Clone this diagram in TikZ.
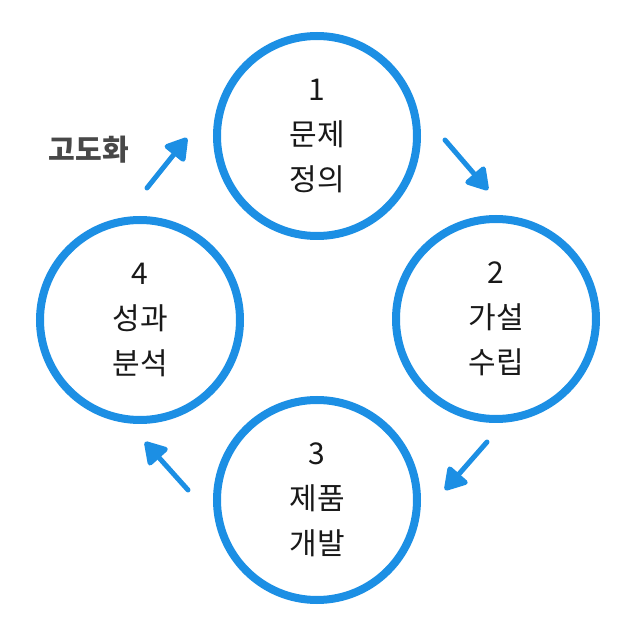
\documentclass[tikz,border=0pt]{standalone}
\usepackage{fontspec}
\setmainfont{Noto Sans CJK KR}
\usetikzlibrary{arrows.meta}
\definecolor{cblue}{RGB}{28,143,228}
\definecolor{ctext}{RGB}{25,25,25}
\definecolor{cgray}{RGB}{72,72,72}
\tikzset{
  x=1pt,y=1pt,
  stage/.style={circle, draw=cblue, line width=8pt, minimum size=200pt, inner sep=0pt,
    text=ctext, align=center, font=\fontsize{30}{45}\selectfont},
  flow/.style={draw=cblue, line width=5pt, line cap=round,
    -{Triangle[length=24pt,width=28pt,round]}, fill=cblue},
  tag/.style={text=cgray, font=\fontsize{29}{34}\selectfont\bfseries}
}
\begin{document}
\begin{tikzpicture}
\useasboundingbox (0,0) rectangle (641,622);
\node[stage] (c1) at (317,486) {1\\문제\\정의};
\node[stage] (c2) at (496,303) {2\\가설\\수립};
\node[stage] (c3) at (317,122) {3\\제품\\개발};
\node[stage] (c4) at (140,302) {4\\성과\\분석};
\node[tag] (t) at (89,472) {고도화};
\coordinate (a1s) at (445,482); \coordinate (a1e) at (488,432);
\coordinate (a2s) at (487,180); \coordinate (a2e) at (445,132);
\coordinate (a3s) at (188,132); \coordinate (a3e) at (145,180);
\coordinate (a4s) at (147,434); \coordinate (a4e) at (187,484);
\draw[flow] (a1s) -- (a1e);
\draw[flow] (a2s) -- (a2e);
\draw[flow] (a3s) -- (a3e);
\draw[flow] (a4s) -- (a4e);
\end{tikzpicture}
\end{document}
